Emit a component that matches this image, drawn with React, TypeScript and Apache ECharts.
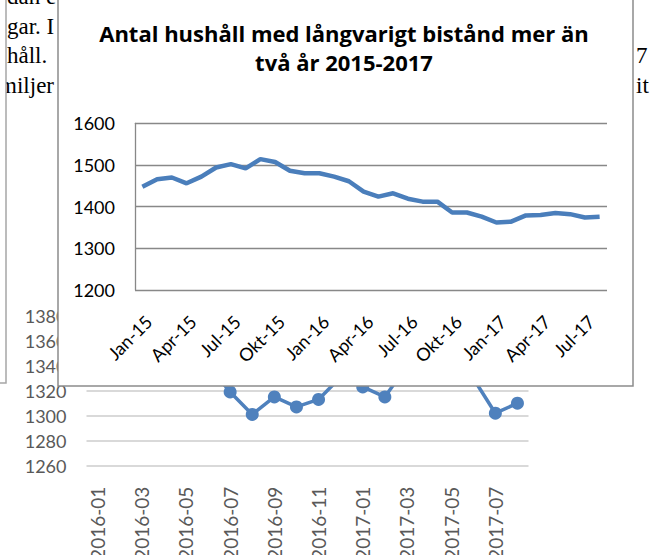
import React, { useEffect, useRef } from 'react';
import * as echarts from 'echarts';

// Front chart: Jan-15 .. Aug-17
const frontCategories = [
  'Jan-15', 'Feb-15', 'Mar-15', 'Apr-15', 'Maj-15', 'Jun-15', 'Jul-15', 'Aug-15', 'Sep-15', 'Okt-15', 'Nov-15', 'Dec-15',
  'Jan-16', 'Feb-16', 'Mar-16', 'Apr-16', 'Maj-16', 'Jun-16', 'Jul-16', 'Aug-16', 'Sep-16', 'Okt-16', 'Nov-16', 'Dec-16',
  'Jan-17', 'Feb-17', 'Mar-17', 'Apr-17', 'Maj-17', 'Jun-17', 'Jul-17', 'Aug-17',
];
const frontValues = [
  1448, 1466, 1470, 1456, 1472, 1494, 1502, 1492, 1514, 1507, 1486, 1480,
  1480, 1472, 1461, 1436, 1424, 1432, 1419, 1412, 1412, 1386, 1386, 1376,
  1362, 1364, 1379, 1380, 1385, 1382, 1374, 1376,
];
const frontYMin = 1200;
const frontYMax = 1600;
const frontYInterval = 100;

// Background chart: 2016-01 .. 2017-08 (partly hidden behind the front chart)
const backCategories = [
  '2016-01', '2016-02', '2016-03', '2016-04', '2016-05', '2016-06', '2016-07', '2016-08', '2016-09', '2016-10',
  '2016-11', '2016-12', '2017-01', '2017-02', '2017-03', '2017-04', '2017-05', '2017-06', '2017-07', '2017-08',
];
const backValues = [
  1352, 1360, 1366, 1358, 1350, 1340, 1319, 1301, 1315, 1307,
  1313, 1331, 1323, 1315, 1340, 1347, 1343, 1330, 1302, 1310,
];
const backYMin = 1260;
const backYMax = 1380;
const backYInterval = 20;

const titleLines = ['Antal hushåll med långvarigt bistånd mer än', 'två år 2015-2017'];
const leftTextLines = ['dan e', 'gar. I', 'håll.', 'familjer'];
const rightTextLines = ['7', 'it'];

const plain = (v: number) => String(v);

export default function App() {
  const ref = useRef<HTMLDivElement>(null);
  useEffect(() => {
    const chart = echarts.init(ref.current!, null, { renderer: 'svg' });
    const serif = '23px "Liberation Serif"';
    const leftBaselines = [4, 33.5, 63.3, 93.3];
    const rightBaselines = [63.3, 93.3];
    const textEls: any[] = [];
    leftTextLines.forEach((t, i) => {
      const isLast = i === leftTextLines.length - 1;
      textEls.push({
        type: 'text',
        x: isLast ? 54 : 7,
        y: leftBaselines[i] - 7.5,
        z: 1,
        style: {
          text: t,
          font: serif,
          fill: '#000',
          textAlign: isLast ? 'right' : 'left',
          textVerticalAlign: 'middle',
        },
      });
    });
    rightTextLines.forEach((t, i) => {
      textEls.push({
        type: 'text',
        x: 636,
        y: rightBaselines[i] - 7.5,
        z: 1,
        style: { text: t, font: serif, fill: '#000', textAlign: 'left', textVerticalAlign: 'middle' },
      });
    });

    chart.setOption({
      animation: false,
      backgroundColor: '#fff',
      grid: [
        { left: 86.5, right: 121.5, top: 315.7, bottom: 89.3, outerBoundsMode: 'none', containLabel: false },
        { left: 135, right: 43, top: 123.3, bottom: 265, outerBoundsMode: 'none', containLabel: false },
      ],
      xAxis: [
        {
          gridIndex: 0,
          type: 'category',
          data: backCategories,
          boundaryGap: true,
          axisLine: { show: false },
          axisTick: { show: false },
          axisLabel: { interval: 1, rotate: 90, margin: 21, fontSize: 19, fontFamily: 'Lato', color: '#595959' },
          z: 1,
        },
        {
          gridIndex: 1,
          type: 'category',
          data: frontCategories,
          boundaryGap: true,
          axisLine: { show: false },
          axisTick: { show: false },
          axisLabel: {
            interval: 2,
            rotate: 45,
            margin: 22,
            fontSize: 18,
            fontFamily: 'Lato',
            color: '#000',
            verticalAlign: 'top',
          },
          z: 11,
        },
      ],
      yAxis: [
        {
          gridIndex: 0,
          type: 'value',
          min: backYMin,
          max: backYMax,
          interval: backYInterval,
          axisLine: { show: false },
          axisTick: { show: false },
          axisLabel: {
            margin: 20,
            fontSize: 18,
            fontFamily: 'Lato',
            color: '#595959',
            formatter: plain,
            padding: [7, 0, 0, 0],
          },
          splitLine: { lineStyle: { color: '#d9d9d9', width: 2 } },
          z: 1,
        },
        {
          gridIndex: 1,
          type: 'value',
          min: frontYMin,
          max: frontYMax,
          interval: frontYInterval,
          axisLine: { show: true, lineStyle: { color: '#888', width: 1.3 } },
          axisTick: { show: false },
          axisLabel: {
            margin: 20,
            fontSize: 18,
            fontFamily: 'Lato',
            color: '#000',
            formatter: plain,
            padding: [6, 0, 0, 0],
          },
          splitLine: { lineStyle: { color: '#888', width: 1.3 } },
          z: 11,
        },
      ],
      series: [
        {
          type: 'line',
          xAxisIndex: 0,
          yAxisIndex: 0,
          data: backValues,
          symbol: 'circle',
          symbolSize: 13,
          lineStyle: { width: 3.5, color: '#4f81bd' },
          itemStyle: { color: '#4f81bd' },
          z: 2,
        },
        {
          type: 'line',
          xAxisIndex: 1,
          yAxisIndex: 1,
          data: frontValues,
          symbol: 'none',
          lineStyle: { width: 4.5, color: '#4a7ebb' },
          z: 12,
        },
      ],
      graphic: {
        elements: [
          ...textEls,
          { type: 'rect', z: 3, shape: { x: -10, y: -10, width: 16, height: 393 }, style: { fill: '#fff' } },
          {
            type: 'polyline',
            z: 4,
            shape: { points: [[-2, 383], [6, 383], [6, -2]] },
            style: { stroke: '#a6a6a6', lineWidth: 1.5, fill: null },
          },
          {
            type: 'rect',
            z: 10,
            shape: { x: 58, y: -1, width: 575, height: 387 },
            style: { fill: '#fff', stroke: '#8c8c8c', lineWidth: 1.5 },
          },
          {
            type: 'text',
            z: 13,
            x: 344,
            y: 47.5,
            style: {
              text: titleLines.join('\n'),
              font: 'bold 22px "Open Sans"',
              fill: '#000',
              textAlign: 'center',
              textVerticalAlign: 'middle',
              lineHeight: 29,
            },
          },
        ],
      },
    });
    return () => chart.dispose();
  }, []);
  return (
    <div
      ref={ref}
      style={{ position: 'fixed', left: 0, top: 0, width: 650, height: 555, background: '#fff' }}
    />
  );
}
